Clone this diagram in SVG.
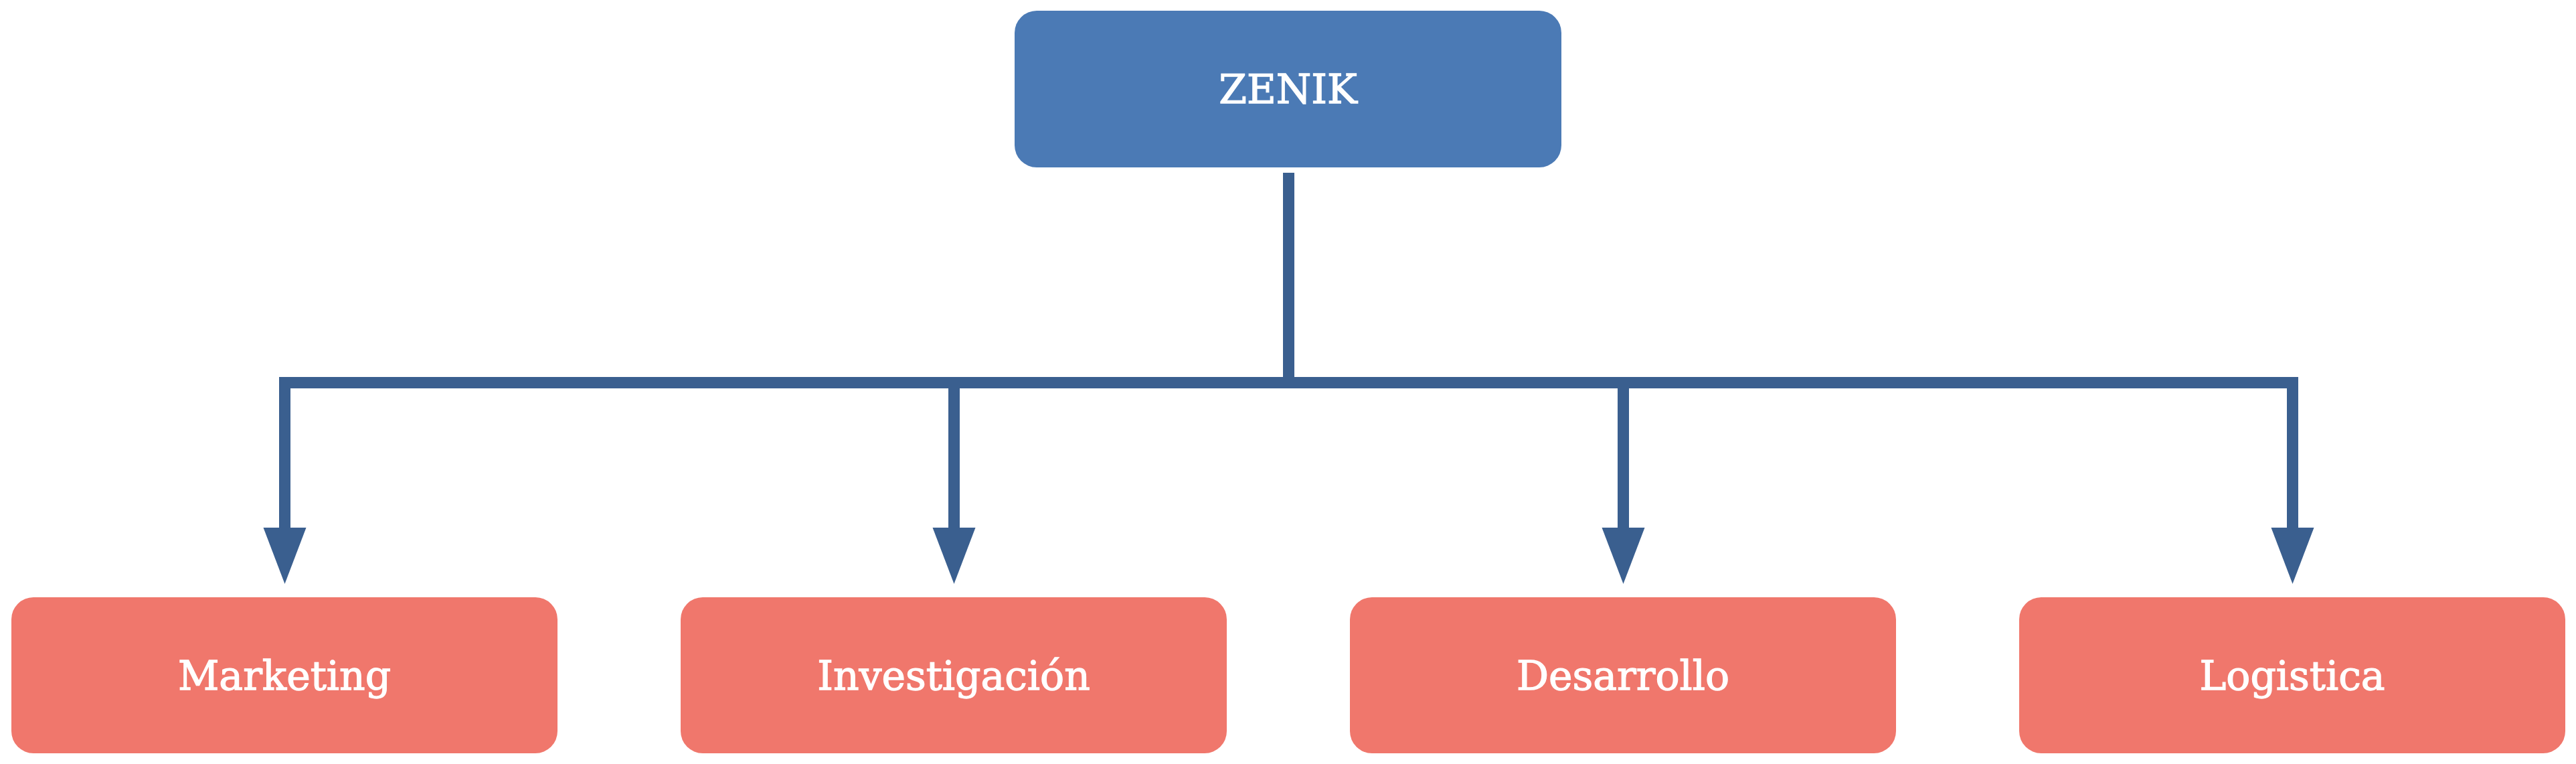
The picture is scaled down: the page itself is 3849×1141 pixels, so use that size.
<svg xmlns="http://www.w3.org/2000/svg" width="3849" height="1141" viewBox="0 0 3849 1141">
<style>
.root{fill:#4B7AB5}
.child{fill:#F0776C}
.lbl{font-family:"DejaVu Serif","Liberation Serif",serif;font-size:60px;fill:#FFFFFF;stroke:#FFFFFF;stroke-width:1.3;text-anchor:middle}
.conn{fill:none;stroke:#3A5F8F;stroke-width:17;stroke-linejoin:miter;stroke-linecap:butt}
</style>
<defs>
<marker id="arr" markerUnits="userSpaceOnUse" markerWidth="84" markerHeight="64" refX="0" refY="32" orient="auto" overflow="visible">
<path d="M0,0 L84,32 L0,64 Z" fill="#3A5F8F"/>
</marker>
</defs>
<g id="connectors">
<path class="conn" d="M1925.5,258 V571.5 H425.5 V788" marker-end="url(#arr)"/>
<path class="conn" d="M1925.5,258 V571.5 H1425.5 V788" marker-end="url(#arr)"/>
<path class="conn" d="M1925.5,258 V571.5 H2425.5 V788" marker-end="url(#arr)"/>
<path class="conn" d="M1925.5,258 V571.5 H3425.5 V788" marker-end="url(#arr)"/>
</g>
<g id="zenik">
<rect class="root" x="1516" y="16" width="817" height="234" rx="33" ry="33"/>
<text class="lbl" x="1924.5" y="154">ZENIK</text>
</g>
<g id="marketing">
<rect class="child" x="17" y="892" width="816" height="233" rx="33" ry="33"/>
<text class="lbl" x="425" y="1030">Marketing</text>
</g>
<g id="investigacion">
<rect class="child" x="1017" y="892" width="816" height="233" rx="33" ry="33"/>
<text class="lbl" x="1425" y="1030">Investigación</text>
</g>
<g id="desarrollo">
<rect class="child" x="2017" y="892" width="816" height="233" rx="33" ry="33"/>
<text class="lbl" x="2425" y="1030">Desarrollo</text>
</g>
<g id="logistica">
<rect class="child" x="3017" y="892" width="816" height="233" rx="33" ry="33"/>
<text class="lbl" x="3425" y="1030">Logistica</text>
</g>
</svg>
